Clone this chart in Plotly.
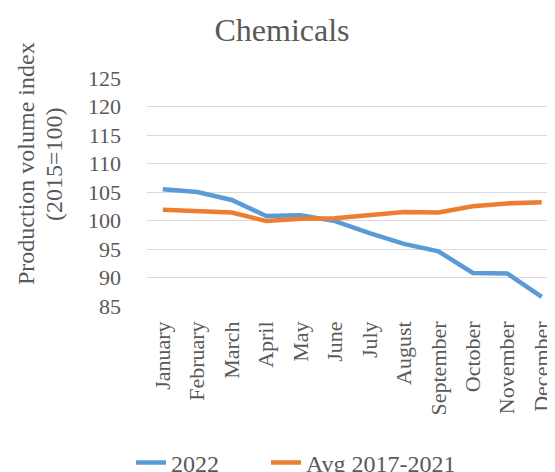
import plotly.graph_objects as go

months = ["January", "February", "March", "April", "May", "June", "July",
          "August", "September", "October", "November", "December"]
y2022 = [105.5, 105.0, 103.6, 100.8, 100.9, 99.9, 97.8, 95.9, 94.6, 90.8, 90.7, 86.6]
avg_2017_2021 = [101.9, 101.7, 101.4, 99.9, 100.3, 100.4, 100.9, 101.5, 101.4, 102.5, 103.0, 103.2]
y_ticks = [85, 90, 95, 100, 105, 110, 115, 120, 125]
y_title_lines = ["Production volume index", "(2015=100)"]

FONT = "Liberation Serif, Times New Roman, serif"
GREY = "#595959"

# page body adds an 8px offset; layout positions below compensate for it
OFF = 8
W, H = 555, 472
L, R, T, B = 147 - OFF, OFF, 78 - OFF, H - (306 - OFF)
PW, PH = W - L - R, H - T - B

fig = go.Figure()
fig.add_trace(go.Scatter(x=months, y=y2022, mode="lines", name="2022",
                         line=dict(color="#5B9BD5", width=4.5), legend="legend"))
fig.add_trace(go.Scatter(x=months, y=avg_2017_2021, mode="lines", name="Avg 2017-2021",
                         line=dict(color="#ED7D31", width=4.5), legend="legend2"))

# y-axis title as two rotated lines
for px, text in zip([26, 54], y_title_lines):
    fig.add_annotation(text=text, textangle=-90, showarrow=False,
                       xref="paper", yref="paper",
                       x=(px - OFF - L) / PW, y=(H - B - (164 - OFF)) / PH,
                       xanchor="center", yanchor="middle",
                       font=dict(family=FONT, size=24, color=GREY))

legend_common = dict(orientation="h", xref="container", yref="container",
                     xanchor="left", y=1 - (463 - OFF) / H, yanchor="middle",
                     font=dict(family=FONT, size=24, color=GREY),
                     bgcolor="rgba(0,0,0,0)")

fig.update_layout(
    width=W, height=H,
    margin=dict(l=L, r=R, t=T, b=B, autoexpand=False),
    paper_bgcolor="white", plot_bgcolor="white",
    font=dict(family=FONT, color=GREY, size=18),
    title=dict(text="Chemicals", x=(282 - OFF) / W, xref="container", xanchor="center",
               y=1 - (30 - OFF) / H, yref="container", yanchor="middle",
               font=dict(family=FONT, size=32, color=GREY)),
    showlegend=True,
    legend=dict(x=(131 - OFF) / W, **legend_common),
    legend2=dict(x=(266 - OFF) / W, **legend_common),
    xaxis=dict(type="category", range=[-0.46, 11.386], tickangle=-90,
               showgrid=False, showline=False, ticks="", automargin=False,
               ticklabelstandoff=10,
               tickfont=dict(family=FONT, size=22, color=GREY)),
    yaxis=dict(range=[85, 125], tickvals=y_ticks, showgrid=True,
               gridcolor="#D9D9D9", gridwidth=1.2, zeroline=False,
               showline=False, ticks="", automargin=False,
               ticklabelstandoff=25,
               tickfont=dict(family=FONT, size=22, color=GREY)),
)

fig.write_html("out.html")
